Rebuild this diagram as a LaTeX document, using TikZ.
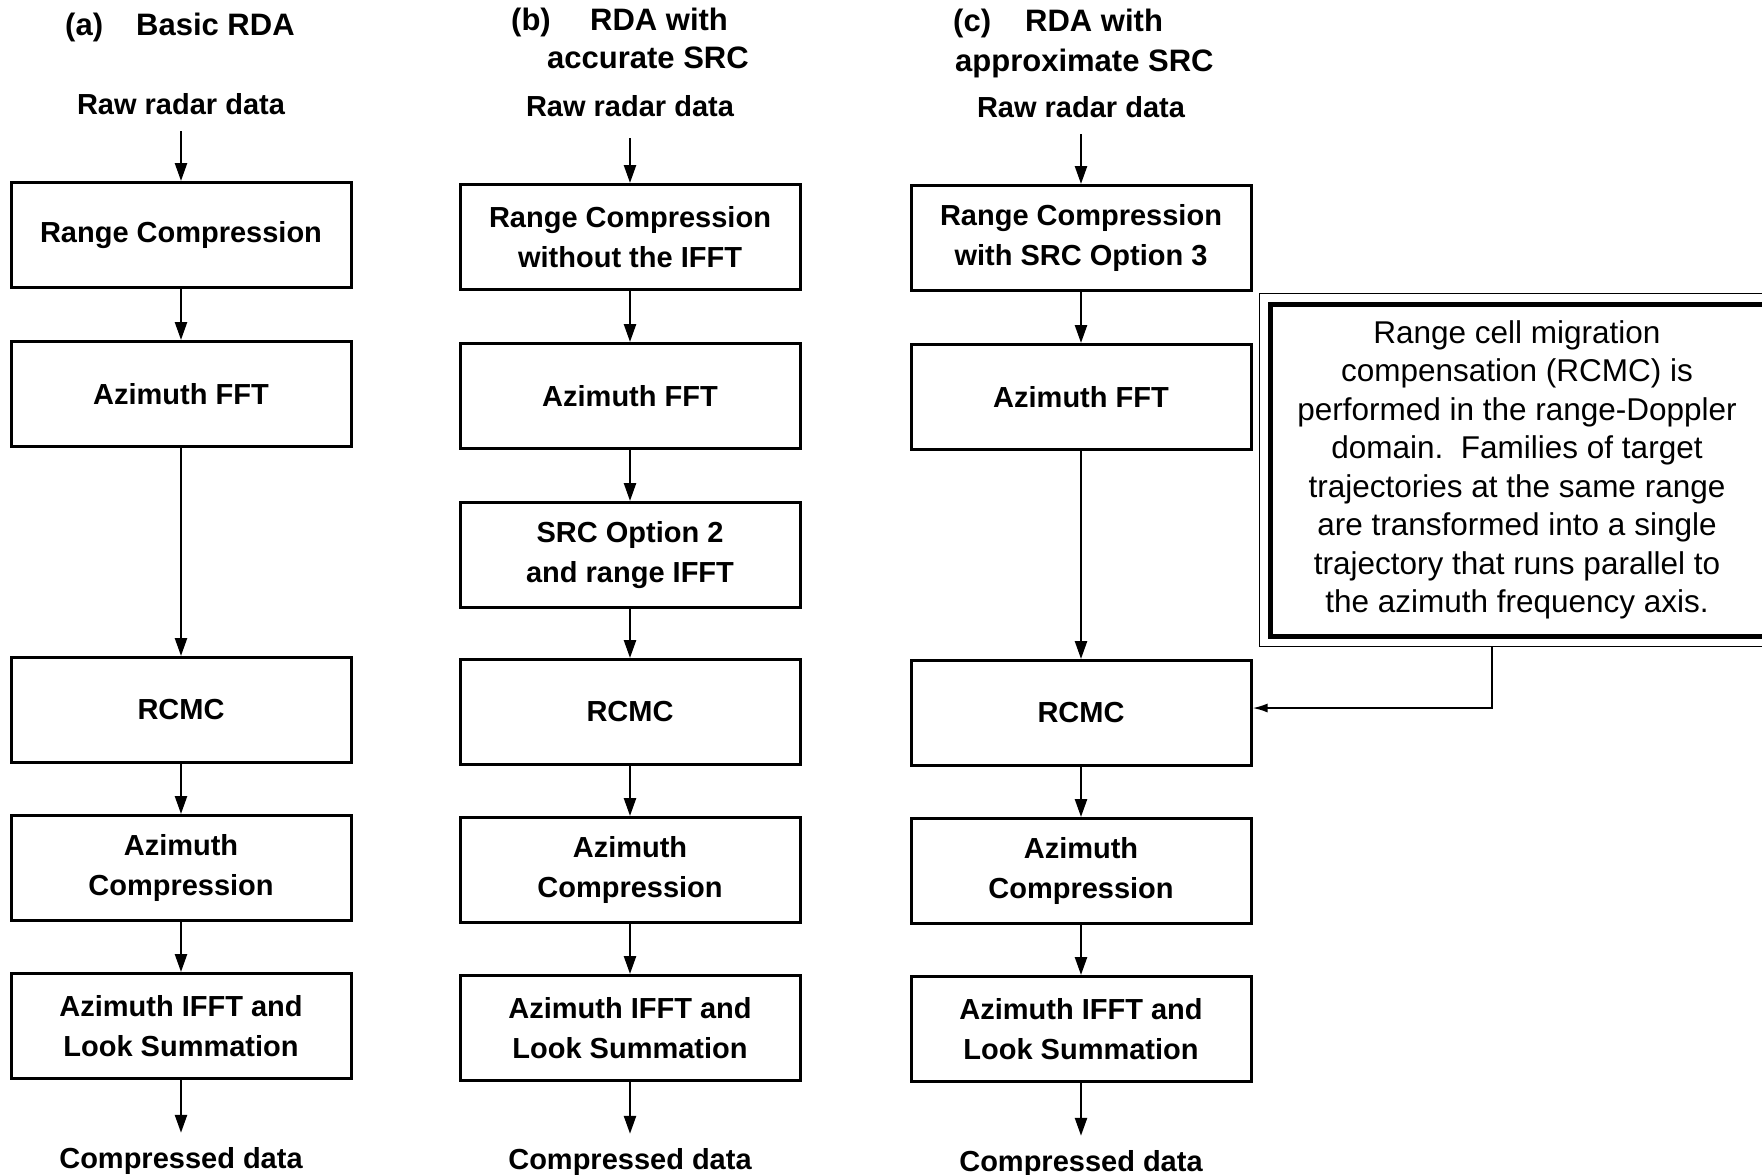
\documentclass[tikz,border=0pt]{standalone}
\usepackage{fontspec}
\setmainfont{Liberation Sans}
\usetikzlibrary{arrows.meta,fit}
\begin{document}
\begin{tikzpicture}[x=1pt,y=-1pt,
  box/.style={draw,line width=3pt,minimum width=340pt,minimum height=105pt,align=center,inner sep=2pt,font=\fontsize{29}{40}\selectfont\bfseries},
  lbl/.style={anchor=base,inner sep=0pt,font=\fontsize{29}{35}\selectfont\bfseries},
  ttl/.style={anchor=base west,inner sep=0pt,font=\fontsize{31}{37}\selectfont\bfseries},
  flow/.style={line width=2.5pt,-{Triangle[length=18pt,width=12pt]}},
  ]
\useasboundingbox (0,0) rectangle (1762,1175);

% titles
\node[ttl] (ta1) at (65,35) {(a)};
\node[ttl] (ta2) at (136,35) {Basic RDA};
\node[ttl] (tb1) at (511,30) {(b)};
\node[ttl] (tb2) at (590,30) {RDA with};
\node[ttl] (tb3) at (547,68) {accurate SRC};
\node[ttl] (tc1) at (953,31) {(c)};
\node[ttl] (tc2) at (1025,31) {RDA with};
\node[ttl] (tc3) at (955,71) {approximate SRC};

% inputs and outputs
\node[lbl] (ra) at (181,114) {Raw radar data};
\node[lbl] (rb) at (630,116) {Raw radar data};
\node[lbl] (rc) at (1081,117) {Raw radar data};
\node[lbl] (oa) at (181,1168) {Compressed data};
\node[lbl] (ob) at (630,1169) {Compressed data};
\node[lbl] (oc) at (1081,1171) {Compressed data};

% column a
\node[box] (a1) at (181,235) {Range Compression};
\node[box] (a2) at (181,394) {Azimuth FFT};
\node[box] (a3) at (181,710) {RCMC};
\node[box] (a4) at (181,868) {Azimuth\\Compression};
\node[box] (a5) at (181,1026) {Azimuth IFFT and\\Look Summation};

% column b
\node[box] (b1) at (630,237) {Range Compression\\without the IFFT};
\node[box] (b2) at (630,396) {Azimuth FFT};
\node[box] (bs) at (630,555) {SRC Option 2\\and range IFFT};
\node[box] (b3) at (630,712) {RCMC};
\node[box] (b4) at (630,870) {Azimuth\\Compression};
\node[box] (b5) at (630,1028) {Azimuth IFFT and\\Look Summation};

% column c
\node[box] (c1) at (1081,238) {Range Compression\\with SRC Option 3};
\node[box] (c2) at (1081,397) {Azimuth FFT};
\node[box] (c3) at (1081,713) {RCMC};
\node[box] (c4) at (1081,871) {Azimuth\\Compression};
\node[box] (c5) at (1081,1029) {Azimuth IFFT and\\Look Summation};

% arrows a
\draw[flow,shorten <=17pt] (ra.south) -- (a1.north);
\draw[flow] (a1) -- (a2);
\draw[flow] (a2) -- (a3);
\draw[flow] (a3) -- (a4);
\draw[flow] (a4) -- (a5);
\draw[flow,shorten >=14pt] (a5.south) -- (oa.north);

% arrows b
\draw[flow,shorten <=22pt] (rb.south) -- (b1.north);
\draw[flow] (b1) -- (b2);
\draw[flow] (b2) -- (bs);
\draw[flow] (bs) -- (b3);
\draw[flow] (b3) -- (b4);
\draw[flow] (b4) -- (b5);
\draw[flow,shorten >=14pt] (b5.south) -- (ob.north);

% arrows c
\draw[flow,shorten <=17pt] (rc.south) -- (c1.north);
\draw[flow] (c1) -- (c2);
\draw[flow] (c2) -- (c3);
\draw[flow] (c3) -- (c4);
\draw[flow] (c4) -- (c5);
\draw[flow,shorten >=14pt] (c5.south) -- (oc.north);

% note
\node[draw,line width=5pt,minimum width=494pt,minimum height=332pt,align=center,
      font=\fontsize{31.5}{38.5}\selectfont] (note) at (1517,470)
  {Range cell migration\\compensation (RCMC) is\\performed in the range-Doppler\\domain.\ \ Families of target\\trajectories at the same range\\are transformed into a single\\trajectory that runs parallel to\\the azimuth frequency axis.};
\node[draw,line width=1.5pt,fit=(note),inner sep=8pt] (frame) {};
\coordinate (bend) at (1492,708);
\draw[line width=2pt,-{Latex[length=15pt,width=9pt]}] (frame.south -| bend) -- (bend) -- (bend -| c3.east);
\end{tikzpicture}
\end{document}
